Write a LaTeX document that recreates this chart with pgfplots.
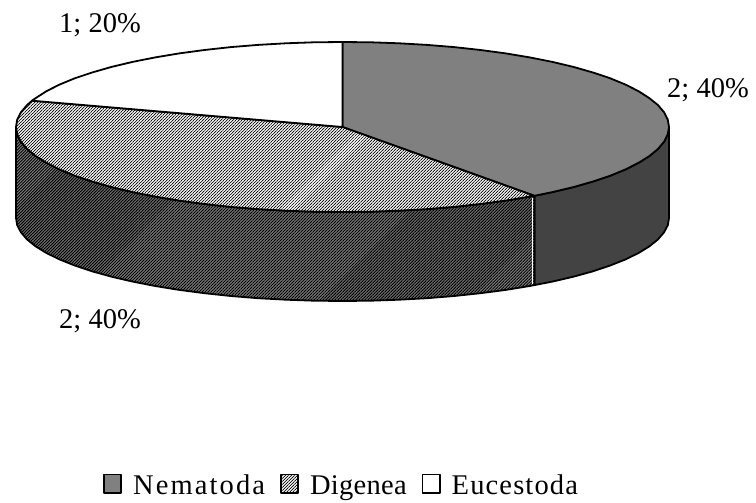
\documentclass[border=0pt]{standalone}
\usepackage{fontspec}
\setmainfont{Liberation Serif}
\usepackage{pgfplots}
\pgfplotsset{compat=1.18}
\usepackage{pgfplotstable}
\usetikzlibrary{patterns.meta}
\definecolor{nemtop}{HTML}{808080}
\definecolor{nemside}{HTML}{434343}
\definecolor{digside}{HTML}{808080}
\pgfplotstableread{
x y
669.0 127.0
667.8 134.4
664.0 141.8
657.9 149.0
649.3 156.1
638.4 162.9
625.3 169.5
610.0 175.8
592.6 181.6
573.4 187.1
552.4 192.1
534.4 195.8
534.4 285.1
552.4 281.6
573.4 276.7
592.6 271.4
610.0 265.6
625.3 259.5
638.4 253.1
649.3 246.4
657.9 239.5
664.0 232.4
667.8 225.2
669.0 218.0
}\sideN
\pgfplotstableread{
x y
534.4 195.8
529.8 196.6
505.8 200.6
480.5 204.0
454.2 206.9
427.0 209.1
399.2 210.7
371.0 211.7
342.5 212.0
314.0 211.7
285.8 210.7
258.0 209.1
230.8 206.9
204.5 204.0
179.2 200.6
155.2 196.6
132.6 192.1
111.6 187.1
92.4 181.6
75.0 175.8
59.7 169.5
46.6 162.9
35.7 156.1
27.1 149.0
21.0 141.8
17.2 134.4
16.0 127.0
16.0 218.0
17.2 225.2
21.0 232.4
27.1 239.5
35.7 246.4
46.6 253.1
59.7 259.5
75.0 265.6
92.4 271.4
111.6 276.7
132.6 281.6
155.2 286.0
179.2 289.9
204.5 293.2
230.8 296.0
258.0 298.2
285.8 299.7
314.0 300.7
342.5 301.0
371.0 300.7
399.2 299.7
427.0 298.2
454.2 296.0
480.5 293.2
505.8 289.9
529.8 286.0
534.4 285.1
}\sideD
\pgfplotstableread{
x y
342.5 127.0
342.5 42.0
371.0 42.3
399.2 43.3
427.0 44.9
454.2 47.1
480.5 50.0
505.8 53.4
529.8 57.4
552.4 61.9
573.4 66.9
592.6 72.4
610.0 78.2
625.3 84.5
638.4 91.1
649.3 98.1
657.9 105.0
664.0 112.2
667.8 119.6
669.0 127.0
667.8 134.4
664.0 141.8
657.9 149.0
649.3 156.1
638.4 162.9
625.3 169.5
610.0 175.8
592.6 181.6
573.4 187.1
552.4 192.1
534.4 195.8
}\topN
\pgfplotstableread{
x y
342.5 127.0
534.4 195.8
529.8 196.6
505.8 200.6
480.5 204.0
454.2 206.9
427.0 209.1
399.2 210.7
371.0 211.7
342.5 212.0
314.0 211.7
285.8 210.7
258.0 209.1
230.8 206.9
204.5 204.0
179.2 200.6
155.2 196.6
132.6 192.1
111.6 187.1
92.4 181.6
75.0 175.8
59.7 169.5
46.6 162.9
35.7 156.1
27.1 149.0
21.0 141.8
17.2 134.4
16.0 127.0
17.2 119.6
21.0 112.2
27.1 105.0
32.0 100.7
}\topD
\pgfplotstableread{
x y
342.5 127.0
32.0 100.7
35.7 98.1
46.6 91.1
59.7 84.5
75.0 78.2
92.4 72.4
111.6 66.9
132.6 61.9
155.2 57.4
179.2 53.4
204.5 50.0
230.8 47.1
258.0 44.9
285.8 43.3
314.0 42.3
342.5 42.0
}\topE
\begin{document}
\begin{tikzpicture}
\begin{axis}[
  scale only axis, width=756pt, height=503pt,
  xmin=0, xmax=756, ymin=0, ymax=503, y dir=reverse,
  hide axis, clip=false,
  legend columns=3,
  legend cell align=left,
  legend style={at={(0.1365,0.01)},anchor=south west,draw=none,fill=none,
    font=\fontsize{28.5}{30}\selectfont,
    inner sep=0pt, outer sep=0pt,
    /tikz/every even column/.style={column sep=13pt},
    /tikz/every odd column/.style={column sep=9pt}},
  legend image code/.code={\draw[#1,line width=1.7pt] (0pt,-7.85pt) rectangle (17.3pt,10.75pt);},
  every axis plot/.append style={line width=1.8pt, line join=round},
]
\path (axis cs:0,0) (axis cs:756,503);
% sides
\addplot[forget plot,fill=nemside,draw=black] table[x=x,y=y]{\sideN} -- cycle;
\addplot[forget plot,fill=digside,draw=none] table[x=x,y=y]{\sideD} -- cycle;
\addplot[forget plot,draw=black,pattern={Lines[angle=45,distance=2.12pt,line width=0.95pt]},pattern color=black] table[x=x,y=y]{\sideD} -- cycle;
\addplot[forget plot,draw=white,line width=0.8pt] coordinates {(532.4,198) (532.4,283.5)};
% tops
\addplot[fill=nemtop,draw=black] table[x=x,y=y]{\topN} -- cycle;
\addlegendentry{\addfontfeatures{LetterSpace=7.4}Nematoda}
\addplot[fill=white,forget plot,draw=none] table[x=x,y=y]{\topD} -- cycle;
\addplot[draw=black,pattern={Lines[angle=45,distance=2.12pt,line width=0.7pt]},pattern color=black] table[x=x,y=y]{\topD} -- cycle;
\addlegendentry{\addfontfeatures{LetterSpace=1}Digenea}
\addplot[fill=white,draw=black] table[x=x,y=y]{\topE} -- cycle;
\addlegendentry{\addfontfeatures{LetterSpace=4}Eucestoda}
\node[font=\fontsize{28.5}{30}\selectfont,anchor=base] at (axis cs:100,33) {1; 20\%};
\node[font=\fontsize{28.5}{30}\selectfont,anchor=base] at (axis cs:708,98) {2; 40\%};
\node[font=\fontsize{28.5}{30}\selectfont,anchor=base] at (axis cs:100,328) {2; 40\%};
\end{axis}
\end{tikzpicture}
\end{document}
